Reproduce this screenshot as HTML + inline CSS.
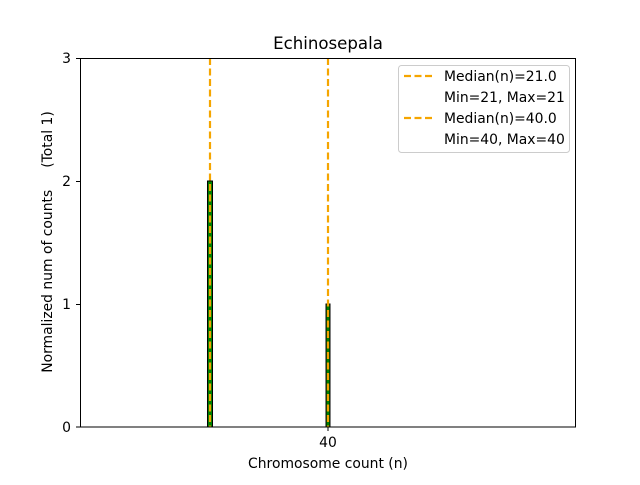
<!DOCTYPE html><html><head><style>body{margin:0;background:#fff}</style></head><body>
<svg width="640" height="480" xmlns="http://www.w3.org/2000/svg" font-family="DejaVu Sans, Liberation Sans, sans-serif">
<rect width="640" height="480" fill="#fff"/>
<line x1="80" y1="427" x2="232" y2="427" stroke="#bbb" stroke-width="1"/>
<rect x="207.5" y="181" width="5" height="246" fill="#008000" stroke="#000" stroke-width="1"/>
<rect x="326" y="304" width="4" height="123" fill="#008000" stroke="#000" stroke-width="1"/>
<line x1="210" y1="58" x2="210" y2="427" stroke="#f5a500" stroke-width="2.2" stroke-dasharray="7,3.5"/>
<line x1="328" y1="58" x2="328" y2="427" stroke="#f5a500" stroke-width="2.2" stroke-dasharray="7,3.5"/>
<rect x="80.5" y="58.5" width="495" height="368.5" fill="none" stroke="#000" stroke-width="1"/>
<g font-size="13.9" fill="#000">
<g stroke="#000"><line x1="76" y1="58.5" x2="80" y2="58.5"/><line x1="76" y1="181.5" x2="80" y2="181.5"/><line x1="76" y1="304.5" x2="80" y2="304.5"/><line x1="76" y1="427" x2="80" y2="427"/><line x1="328" y1="427" x2="328" y2="431"/></g>
<text x="71" y="63" text-anchor="end">3</text><text x="71" y="186" text-anchor="end">2</text><text x="71" y="309" text-anchor="end">1</text><text x="71" y="432" text-anchor="end">0</text>
<text x="328" y="447" text-anchor="middle">40</text>
<text x="328" y="468" text-anchor="middle">Chromosome count (n)</text>
<text transform="translate(52,242) rotate(-90)" text-anchor="middle" xml:space="preserve">Normalized num of counts     (Total 1)</text>
<text x="328" y="49" text-anchor="middle" font-size="16.6">Echinosepala</text>
</g>
<rect x="398.5" y="65.5" width="171" height="87" rx="3" fill="#fff" stroke="#ccc"/>
<line x1="404" y1="76" x2="432" y2="76" stroke="#f5a500" stroke-width="2.2" stroke-dasharray="7,3.5"/>
<line x1="404" y1="118" x2="432" y2="118" stroke="#f5a500" stroke-width="2.2" stroke-dasharray="7,3.5"/>
<g font-size="13.9" fill="#000">
<text x="444" y="81">Median(n)=21.0</text><text x="444" y="102">Min=21, Max=21</text>
<text x="444" y="123">Median(n)=40.0</text><text x="444" y="144">Min=40, Max=40</text>
</g>
</svg></body></html>
